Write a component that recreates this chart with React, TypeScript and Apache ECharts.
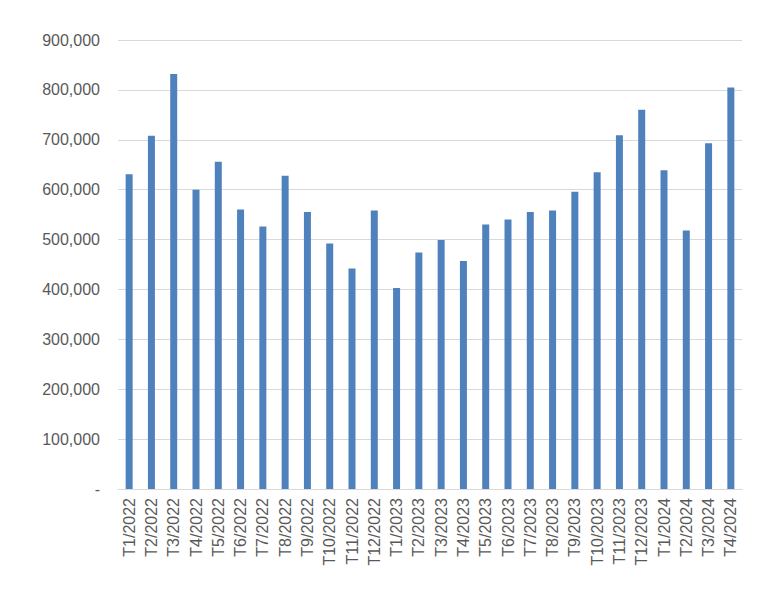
import React, { useEffect, useRef } from "react";
import * as echarts from "echarts";

const categories = [
  "T1/2022", "T2/2022", "T3/2022", "T4/2022", "T5/2022", "T6/2022", "T7/2022",
  "T8/2022", "T9/2022", "T10/2022", "T11/2022", "T12/2022",
  "T1/2023", "T2/2023", "T3/2023", "T4/2023", "T5/2023", "T6/2023", "T7/2023",
  "T8/2023", "T9/2023", "T10/2023", "T11/2023", "T12/2023",
  "T1/2024", "T2/2024", "T3/2024", "T4/2024",
];

const values = [
  631000, 708000, 832000, 600000, 656000, 560000, 526000, 628000, 555000, 492000, 442000, 558000,
  403000, 474000, 499000, 457000, 530000, 540000, 555000, 558000, 596000, 635000, 709000, 760000,
  639000, 518000, 693000, 805000,
];

const yMax = 900000;
const yInterval = 100000;

function fmt(v: number): string {
  if (v === 0) return "-";
  return v.toLocaleString("en-US");
}

export default function App() {
  const ref = useRef<HTMLDivElement>(null);
  useEffect(() => {
    if (!ref.current) return;
    const chart = echarts.init(ref.current, null, { renderer: "svg" });
    chart.setOption({
      animation: false,
      backgroundColor: "#ffffff",
      grid: { left: 118, right: 24, top: 40, bottom: 102, containLabel: false },
      xAxis: {
        type: "category",
        data: categories,
        axisLine: { show: true, lineStyle: { color: "#d9d9d9", width: 1 } },
        axisTick: { show: false },
        axisLabel: {
          rotate: 90,
          interval: 0,
          margin: 9,
          color: "#595959",
          fontSize: 16,
          fontFamily: "Liberation Sans, Arial, sans-serif",
        },
      },
      yAxis: {
        type: "value",
        min: 0,
        max: yMax,
        interval: yInterval,
        axisLine: { show: false },
        axisTick: { show: false },
        splitLine: { lineStyle: { color: "#d9d9d9", width: 1 } },
        axisLabel: {
          margin: 18,
          color: "#595959",
          fontSize: 16,
          fontFamily: "Liberation Sans, Arial, sans-serif",
          formatter: (v: number) => fmt(v),
        },
      },
      series: [
        {
          type: "bar",
          data: values,
          barWidth: 7,
          itemStyle: { color: "#4f81bd" },
        },
      ],
    });
    return () => chart.dispose();
  }, []);
  return (
    <div
      ref={ref}
      style={{ position: "fixed", left: 0, top: 0, width: 766, height: 591, background: "#fff" }}
    />
  );
}
